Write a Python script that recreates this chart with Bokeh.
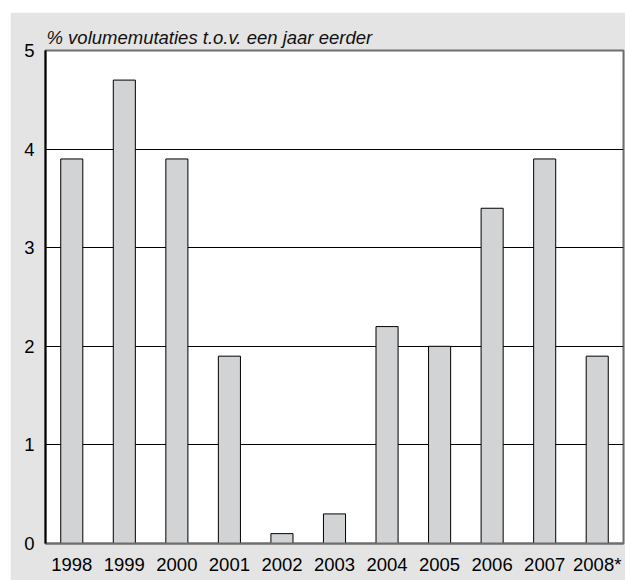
from bokeh.plotting import figure
from bokeh.models import FactorRange, Range1d, FixedTicker, Spacer
from bokeh.layouts import column, row
from bokeh.embed import file_html
from bokeh.resources import INLINE

years = ["1998", "1999", "2000", "2001", "2002", "2003", "2004", "2005", "2006", "2007", "2008*"]
growth = [3.9, 4.7, 3.9, 1.9, 0.1, 0.3, 2.2, 2.0, 3.4, 3.9, 1.9]
y_ticks = [0, 1, 2, 3, 4, 5]
axis_title = "% volumemutaties t.o.v. een jaar eerder"

FONT = "Liberation Sans"
BG = "#e3e4e3"

p = figure(width=615, height=568, x_range=FactorRange(*years, range_padding=0),
           y_range=Range1d(0, 5), output_backend="svg", toolbar_location=None,
           min_border_left=35, min_border_right=2, min_border_top=38, min_border_bottom=37)

p.border_fill_color = BG
p.background_fill_color = "white"

p.vbar(x=years, top=growth, width=0.42, fill_color="#d2d3d4", line_color="black", line_width=1)

p.outline_line_color = "#6e6e6e"
p.outline_line_width = 2

p.title.text = axis_title
p.title.text_font = FONT
p.title.text_font_style = "italic"
p.title.text_font_size = "18.5px"
p.title.text_color = "#111111"
p.title.align = "left"
p.title.offset = 1
p.title.standoff = 6

p.xgrid.grid_line_color = None
p.ygrid.grid_line_color = "black"
p.ygrid.grid_line_width = 1
p.ygrid.ticker = FixedTicker(ticks=y_ticks)

p.yaxis.ticker = FixedTicker(ticks=y_ticks)
p.yaxis.axis_line_color = "black"
p.yaxis.axis_line_width = 2
p.yaxis.major_tick_line_color = None
p.yaxis.minor_tick_line_color = None
p.yaxis.major_label_text_font = FONT
p.yaxis.major_label_text_font_size = "18.5px"
p.yaxis.major_label_text_color = "black"
p.yaxis.major_label_standoff = 5

p.xaxis.axis_line_color = "#6e6e6e"
p.xaxis.axis_line_width = 2
p.xaxis.major_tick_line_color = None
p.xaxis.minor_tick_line_color = None
p.xaxis.major_label_text_font = FONT
p.xaxis.major_label_text_font_size = "18.5px"
p.xaxis.major_label_text_color = "black"
p.xaxis.major_label_standoff = 4

page = column(Spacer(width=625, height=12), row(Spacer(width=10, height=568), p))

open("out.html", "w").write(file_html(page, INLINE))
